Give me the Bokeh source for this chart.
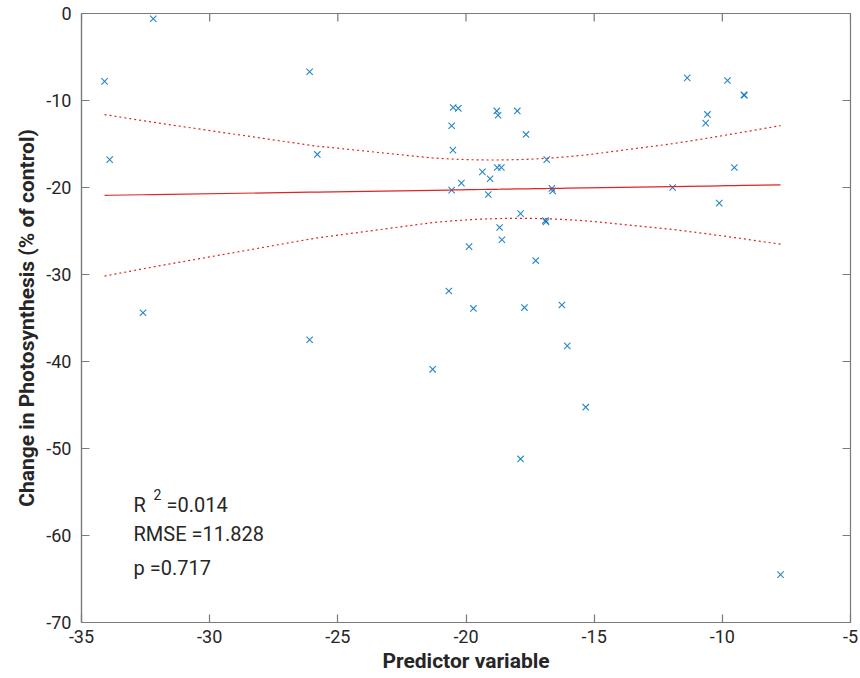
import numpy as np
from bokeh.plotting import figure
from bokeh.models import Range1d, FixedTicker, Label, AllLabels
from bokeh.core.properties import value
from bokeh.embed import file_html
from bokeh.resources import INLINE

# Observations: predictor value and change in photosynthesis (% of control)
predictor = [
    -34.1, -33.9, -32.2, -32.6, -26.1, -25.8, -26.1, -21.3,
    -20.5, -20.3, -18.8, -18.75, -18.0, -17.66, -20.56, -20.51,
    -16.85, -19.36, -18.78, -18.62, -19.06, -20.18, -20.56, -19.13,
    -16.65, -16.62, -17.87, -16.9, -16.88, -18.69, -18.6, -19.88,
    -17.28, -20.67, -19.71, -17.72, -16.26, -16.05, -15.33, -17.87,
    -11.37, -9.8, -9.16, -9.14, -10.58, -10.65, -9.53, -11.94,
    -10.12, -7.73,
]
change = [
    -7.8, -16.8, -0.6, -34.4, -6.7, -16.2, -37.5, -40.9,
    -10.8, -10.9, -11.2, -11.7, -11.2, -13.9, -12.9, -15.7,
    -16.8, -18.2, -17.7, -17.7, -19.0, -19.5, -20.3, -20.8,
    -20.1, -20.4, -23.0, -23.8, -23.95, -24.6, -26.0, -26.8,
    -28.4, -31.9, -33.9, -33.8, -33.5, -38.2, -45.25, -51.2,
    -7.4, -7.7, -9.35, -9.4, -11.6, -12.6, -17.7, -20.0,
    -21.8, -64.5,
]

# Fitted linear model (slope, intercept) and its reported statistics
fit_slope = 0.0455
fit_intercept = -19.35
r2_value = 0.014
rmse_value = 11.828
p_value = 0.717

x_ticks = [-35, -30, -25, -20, -15, -10, -5]
y_ticks = [-70, -60, -50, -40, -30, -20, -10, 0]

FONT = "Roboto"
AXIS_GREY = "#7a7a7a"
TEXT_DARK = "#262626"
BLUE = "#0072BD"
RED = "#e02424"

# Fitted line and 95% confidence bounds on the fitted mean, evaluated at the
# observed predictor values
x = np.array(predictor, dtype=float)
n = len(x)
sxx = np.sum((x - x.mean()) ** 2)
t_crit = 2.0106  # two-sided 95%, n - 2 dof
xs = np.unique(x)
fit = fit_slope * xs + fit_intercept
half = t_crit * rmse_value * np.sqrt(1.0 / n + (xs - x.mean()) ** 2 / sxx)

p = figure(
    width=860, height=678,
    x_range=Range1d(-35, -5), y_range=Range1d(-70, 0),
    output_backend="svg", toolbar_location=None,
    min_border_left=81, min_border_right=10,
    min_border_top=13, min_border_bottom=56,
    background_fill_color="white", border_fill_color="white",
)
p.outline_line_color = AXIS_GREY
p.outline_line_width = 1.2
p.grid.visible = False

p.scatter(predictor, change, marker="x", size=9, line_color=BLUE,
          line_width=1.1, line_alpha=0.85)
p.line(xs, fit, line_color=RED, line_width=1.2)
p.line(xs, fit + half, line_color=RED, line_width=1.2, line_dash="2 3")
p.line(xs, fit - half, line_color=RED, line_width=1.2, line_dash="2 3")

# Bottom and left axes: inward ticks, plain hyphen minus signs
for ax, ticks, standoff in ((p.xaxis[0], x_ticks, 7), (p.yaxis[0], y_ticks, 10)):
    ax.ticker = FixedTicker(ticks=ticks)
    ax.major_label_overrides = {t: str(t) for t in ticks}
    ax.major_label_policy = AllLabels()
    ax.axis_line_color = AXIS_GREY
    ax.axis_line_width = 1.2
    ax.major_tick_line_color = AXIS_GREY
    ax.major_tick_line_width = 1.2
    ax.major_tick_in = 8
    ax.major_tick_out = 0
    ax.minor_tick_line_color = None
    ax.major_label_text_font = FONT
    ax.major_label_text_font_size = "18px"
    ax.major_label_text_color = TEXT_DARK
    ax.major_label_standoff = standoff
    ax.axis_label_text_font = FONT
    ax.axis_label_text_font_style = "bold"
    ax.axis_label_text_font_size = "21px"
    ax.axis_label_text_color = TEXT_DARK

p.xaxis.axis_label = "Predictor variable"
p.yaxis.axis_label = "Change in Photosynthesis (% of control)"
p.xaxis.axis_label_standoff = 3
p.yaxis.axis_label_standoff = 4

# Box ticks along the top and right edges (half of each dash lies inside the frame)
p.scatter(x_ticks, [0] * len(x_ticks), marker="dash", size=16, angle=np.pi / 2,
          line_color=AXIS_GREY, line_width=1.2)
p.scatter([-5] * len(y_ticks), y_ticks, marker="dash", size=16,
          line_color=AXIS_GREY, line_width=1.2)

# Fit statistics
stat_kw = dict(text_font=value(FONT), text_font_size="20px", text_color=TEXT_DARK,
               text_baseline="alphabetic", text_align="left")
p.text(x=[-32.97], y=[-56.44], text=["R"], **stat_kw)
p.text(x=[-32.97], y=[-56.44], text=["2"], x_offset=20, y_offset=-10,
       text_font=value(FONT), text_font_size="14px", text_color=TEXT_DARK,
       text_baseline="alphabetic", text_align="left")
p.text(x=[-32.97], y=[-56.44], text=[f"={r2_value:.3f}"], x_offset=33, **stat_kw)
p.text(x=[-32.97], y=[-59.8], text=[f"RMSE ={rmse_value:.3f}"], **stat_kw)
p.text(x=[-32.97], y=[-63.76], text=[f"p ={p_value:.3f}"], **stat_kw)

# Title line sitting just above the top edge of the canvas
p.add_layout(Label(x=359, y=622, x_units="screen", y_units="screen",
                   text="(Tleaf, gs)", text_font=FONT, text_font_size="20px",
                   text_font_style="bold", text_color=TEXT_DARK,
                   text_baseline="alphabetic"))

open("out.html", "w").write(file_html(p, INLINE))
